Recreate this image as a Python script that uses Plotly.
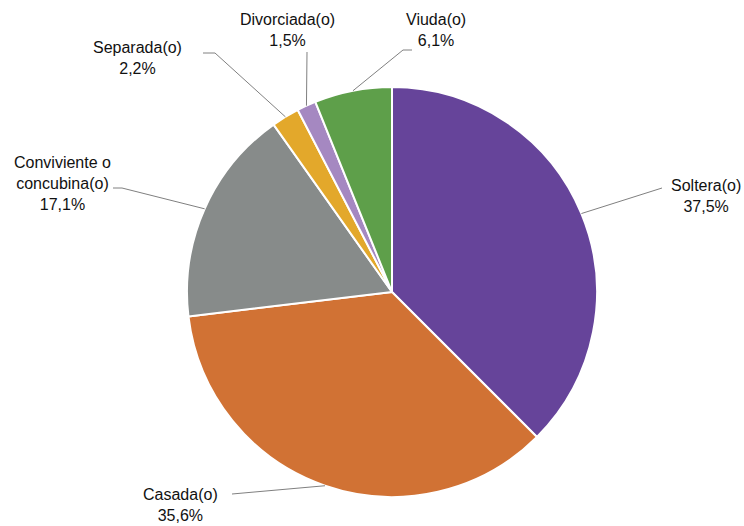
import math
import plotly.graph_objects as go

labels = ["Soltera(o)", "Casada(o)", "Conviviente o<br>concubina(o)", "Separada(o)", "Divorciada(o)", "Viuda(o)"]
values = [37.5, 35.6, 17.1, 2.2, 1.5, 6.1]
pct_text = ["37,5%", "35,6%", "17,1%", "2,2%", "1,5%", "6,1%"]
colors = ["#66449A", "#D17234", "#878B8A", "#E3A82B", "#A588C1", "#5E9F4A"]

W, H = 744, 526
CX, CY, R = 392, 292, 205  # pie centre / radius in px

# label text centres (px) and leader elbow points (px)
label_pos = [(706, 196), (180, 505), (62, 183), (137, 58), (287, 30), (436, 30)]
elbows = [[(662, 188)], [(232, 494)], [(113, 188), (122, 188)], [(203, 53), (215, 53)],
          [(307, 52)], [(412, 50), (403, 50)]]

def px(x, y):
    return x / W, (H - y) / H

fig = go.Figure(go.Pie(
    labels=labels, values=values, sort=False, direction="clockwise", rotation=0,
    marker=dict(colors=colors, line=dict(color="white", width=2)),
    textinfo="none", hoverinfo="label+percent", showlegend=False,
    domain=dict(x=[(CX - R) / W, (CX + R) / W], y=[(H - CY - R) / H, (H - CY + R) / H]),
))

total = sum(values)
cum = 0
shapes, annotations = [], []
for i, v in enumerate(values):
    mid = (cum + v / 2) / total * 2 * math.pi
    cum += v
    ex = CX + R * math.sin(mid)
    ey = CY - R * math.cos(mid)
    pts = elbows[i] + [(ex, ey)]
    path = ""
    for j, (x, y) in enumerate(pts):
        X, Y = px(x, y)
        path += ("M" if j == 0 else "L") + f"{X},{Y} "
    shapes.append(dict(type="path", xref="paper", yref="paper", path=path.strip(),
                       line=dict(color="#808080", width=1)))
    tx, ty = px(*label_pos[i])
    annotations.append(dict(x=tx, y=ty, xref="paper", yref="paper", showarrow=False,
                            text=f"{labels[i]}<br>{pct_text[i]}", align="center",
                            xanchor="center", yanchor="middle",
                            font=dict(family="Liberation Sans, Arial, sans-serif", size=16, color="#111111")))

fig.update_layout(width=W, height=H, margin=dict(l=0, r=0, t=0, b=0),
                  paper_bgcolor="white", plot_bgcolor="white",
                  shapes=shapes, annotations=annotations)
fig.write_html("out.html", config={"displayModeBar": False},
               post_script="document.body.style.margin='0';document.body.style.overflow='hidden';")
